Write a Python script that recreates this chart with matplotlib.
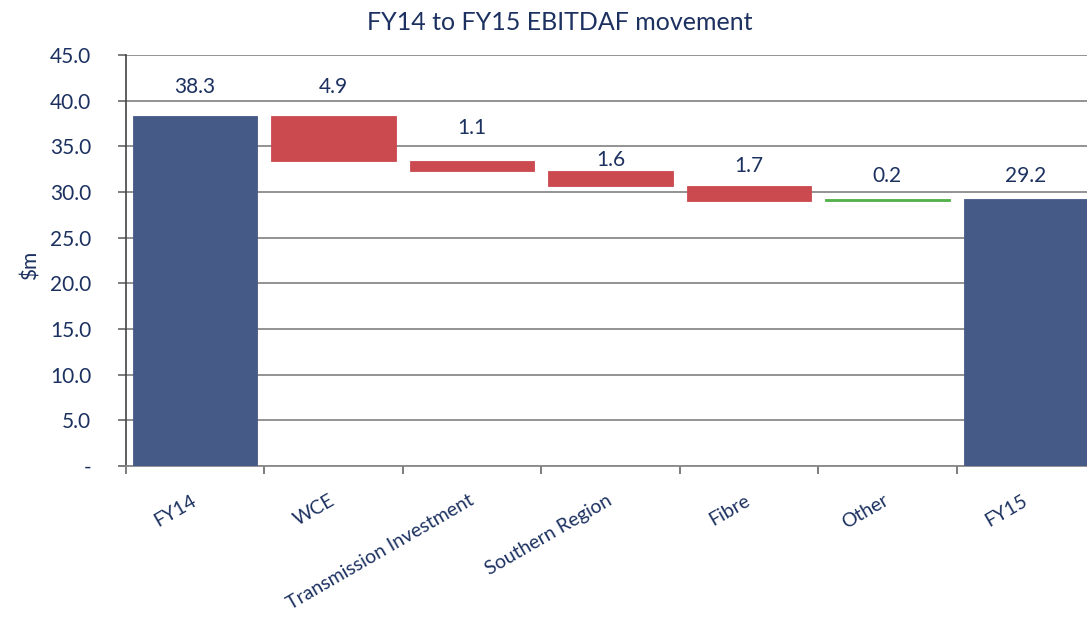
import matplotlib.pyplot as plt
import numpy as np

# chart data
categories = ["FY14", "WCE", "Transmission Investment", "Southern Region",
              "Fibre", "Other", "FY15"]
start_value = 38.3
movements = [-4.9, -1.1, -1.6, -1.7, 0.2]
end_value = 29.2
value_labels = ["38.3", "4.9", "1.1", "1.6", "1.7", "0.2", "29.2"]

navy = "#465a88"
red = "#cb4a50"
green = "#54b04a"
text_col = "#1c3160"

plt.rcParams['font.family'] = ['Lato', 'DejaVu Sans']

fig = plt.figure(figsize=(10.87, 6.17), dpi=100)
ax = fig.add_axes([0.1159, 0.2447, 0.8915, 0.6662])

x = np.arange(len(categories))

# waterfall geometry from the movements
levels = start_value + np.cumsum([0] + movements)
bottoms = [0]
heights = [start_value]
colors = [navy]
for i, m in enumerate(movements):
    lo = min(levels[i], levels[i + 1])
    bottoms.append(lo)
    heights.append(abs(m))
    colors.append(red if m < 0 else green)
bottoms.append(0)
heights.append(end_value)
colors.append(navy)

ax.bar(x, heights, bottom=bottoms, width=0.9, color=colors,
       edgecolor=colors, linewidth=0.6, zorder=3)

# label offsets above bar top (data units), as in the original layout
label_pad = [3.2, 3.2, 3.6, 1.2, 2.1, 2.6, 2.6]
for i, lbl in enumerate(value_labels):
    top = bottoms[i] + heights[i]
    ax.text(x[i], top + label_pad[i], lbl, ha="center", va="center",
            fontsize=15, color=text_col)

ax.set_xlim(-0.5, len(categories) - 0.5)
ax.set_ylim(0, 45)
ax.set_yticks(np.arange(0, 46, 5))
ax.set_yticklabels([f"{v:.1f}" if v else "-" for v in np.arange(0, 46, 5)])
ax.yaxis.grid(True, color="#8a8a8a", linewidth=1.3, zorder=0)
ax.set_axisbelow(True)

ax.set_xticks(x)
ax.set_xticklabels(categories)
ax.set_xticks(np.arange(-0.5, len(categories)), minor=True)
ax.tick_params(axis="x", which="major", length=0, pad=24, labelsize=14,
               labelcolor=text_col)
ax.tick_params(axis="x", which="minor", length=6, width=1.2, color="#666666")
ax.tick_params(axis="y", length=6, width=1.2, color="#666666", pad=19,
               labelsize=15, labelcolor=text_col)
plt.setp(ax.get_xticklabels(), rotation=30, ha="right", va="center",
         rotation_mode="anchor")

for s in ["top", "right"]:
    ax.spines[s].set_visible(False)
ax.spines["left"].set_color("#444444")
ax.spines["left"].set_linewidth(1.2)
ax.spines["bottom"].set_color("#8a8a8a")
ax.spines["bottom"].set_linewidth(1.3)

fig.text(0.515, 0.964, "FY14 to FY15 EBITDAF movement", ha="center",
         va="center", fontsize=18, color=text_col)
fig.text(0.028, 0.57, "$m", rotation=90, ha="center", va="center",
         fontsize=15, color=text_col)

fig.savefig("out.png", dpi=100)
